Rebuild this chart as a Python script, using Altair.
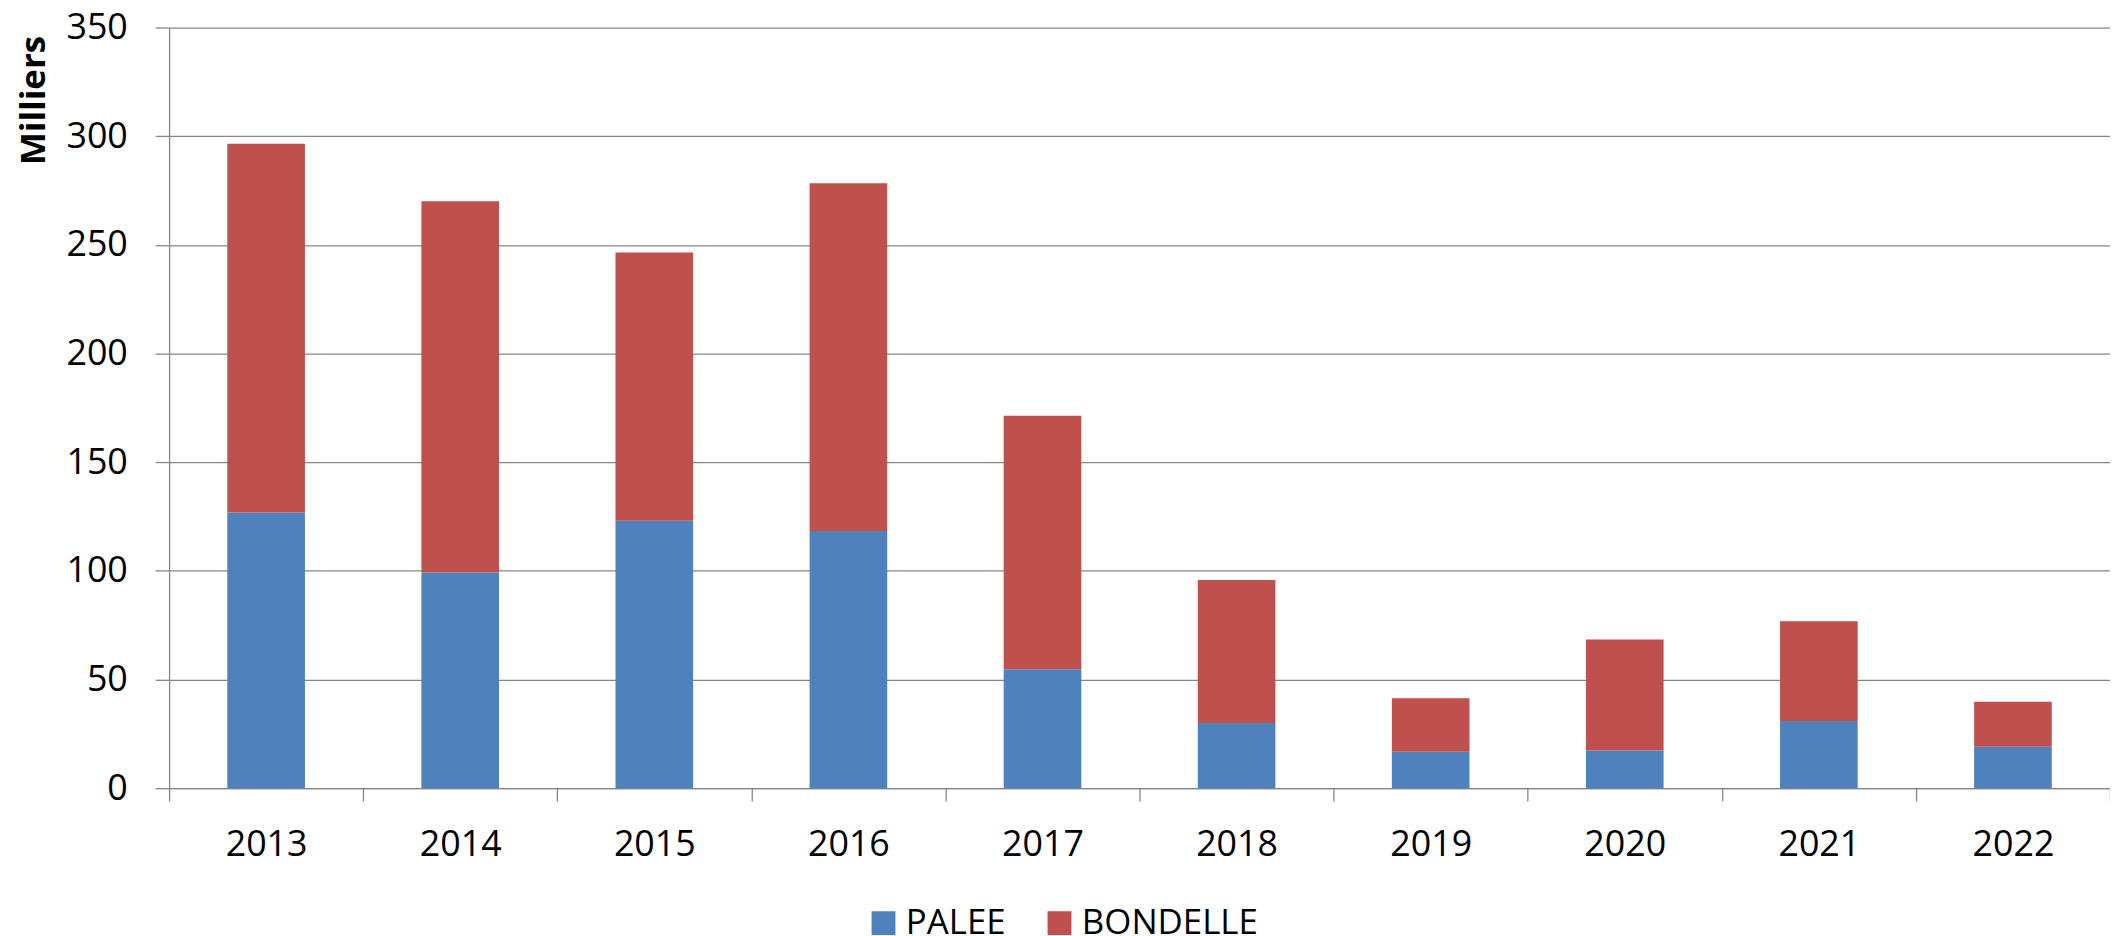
import altair as alt
import pandas as pd

years = ["2013", "2014", "2015", "2016", "2017", "2018", "2019", "2020", "2021", "2022"]
palee = [126.9, 99.2, 123.1, 118.4, 54.7, 30.0, 16.8, 17.4, 30.9, 19.1]
bondelle = [169.6, 170.9, 123.4, 159.9, 116.7, 65.8, 24.6, 51.0, 45.9, 20.7]
series = ["PALEE", "BONDELLE"]
colors = ["#4F81BD", "#C0504D"]
y_ticks = [0, 50, 100, 150, 200, 250, 300, 350]

rows = []
for i, yr in enumerate(years):
    rows.append({"year": yr, "series": "PALEE", "value": palee[i], "ord": 0})
    rows.append({"year": yr, "series": "BONDELLE", "value": bondelle[i], "ord": 1})
df = pd.DataFrame(rows)

FONT = "Open Sans"
GRID = "#878787"

chart = alt.Chart(df).mark_bar(width=alt.RelativeBandSize(0.4)).encode(
    x=alt.X("year:N", sort=years,
            scale=alt.Scale(paddingInner=0, paddingOuter=0),
            axis=alt.Axis(title=None, labelAngle=0, tickBand="extent",
                          tickSize=13, tickColor=GRID, tickWidth=1.3,
                          domainColor=GRID, domainWidth=1.3,
                          labelPadding=27, labelFontSize=36, labelFont=FONT,
                          labelColor="#000000")),
    y=alt.Y("value:Q", stack="zero",
            scale=alt.Scale(domain=[0, 350], nice=False),
            axis=alt.Axis(values=y_ticks, title="Milliers", grid=True,
                          gridColor=GRID, gridWidth=1.3,
                          tickSize=14, tickColor=GRID, tickWidth=1.3,
                          domainColor=GRID, domainWidth=1.3,
                          labelPadding=28, labelFontSize=36, labelFont=FONT,
                          labelColor="#000000",
                          titleFont=FONT, titleFontSize=35, titleFontWeight="bold",
                          titleColor="#000000", titleAngle=270, titleAlign="right",
                          titleBaseline="alphabetic", titleX=-125, titleY=8)),
    color=alt.Color("series:N",
                    scale=alt.Scale(domain=series, range=colors),
                    legend=alt.Legend(title=None, orient="none", direction="horizontal",
                                      legendX=701, legendY=883, padding=0,
                                      symbolType="square", symbolSize=576,
                                      symbolStrokeWidth=0, labelLimit=500,
                                      labelFont=FONT, labelFontSize=35,
                                      labelColor="#000000",
                                      labelOffset=5, columnPadding=36)),
    order=alt.Order("ord:Q"),
).properties(
    width=1952, height=765,
    autosize=alt.AutoSizeParams(type="none"),
    padding={"left": 162, "top": 17, "right": 0, "bottom": 146},
).configure_view(stroke=None)

chart.save("out.html", embed_options={"renderer": "svg", "actions": False})
